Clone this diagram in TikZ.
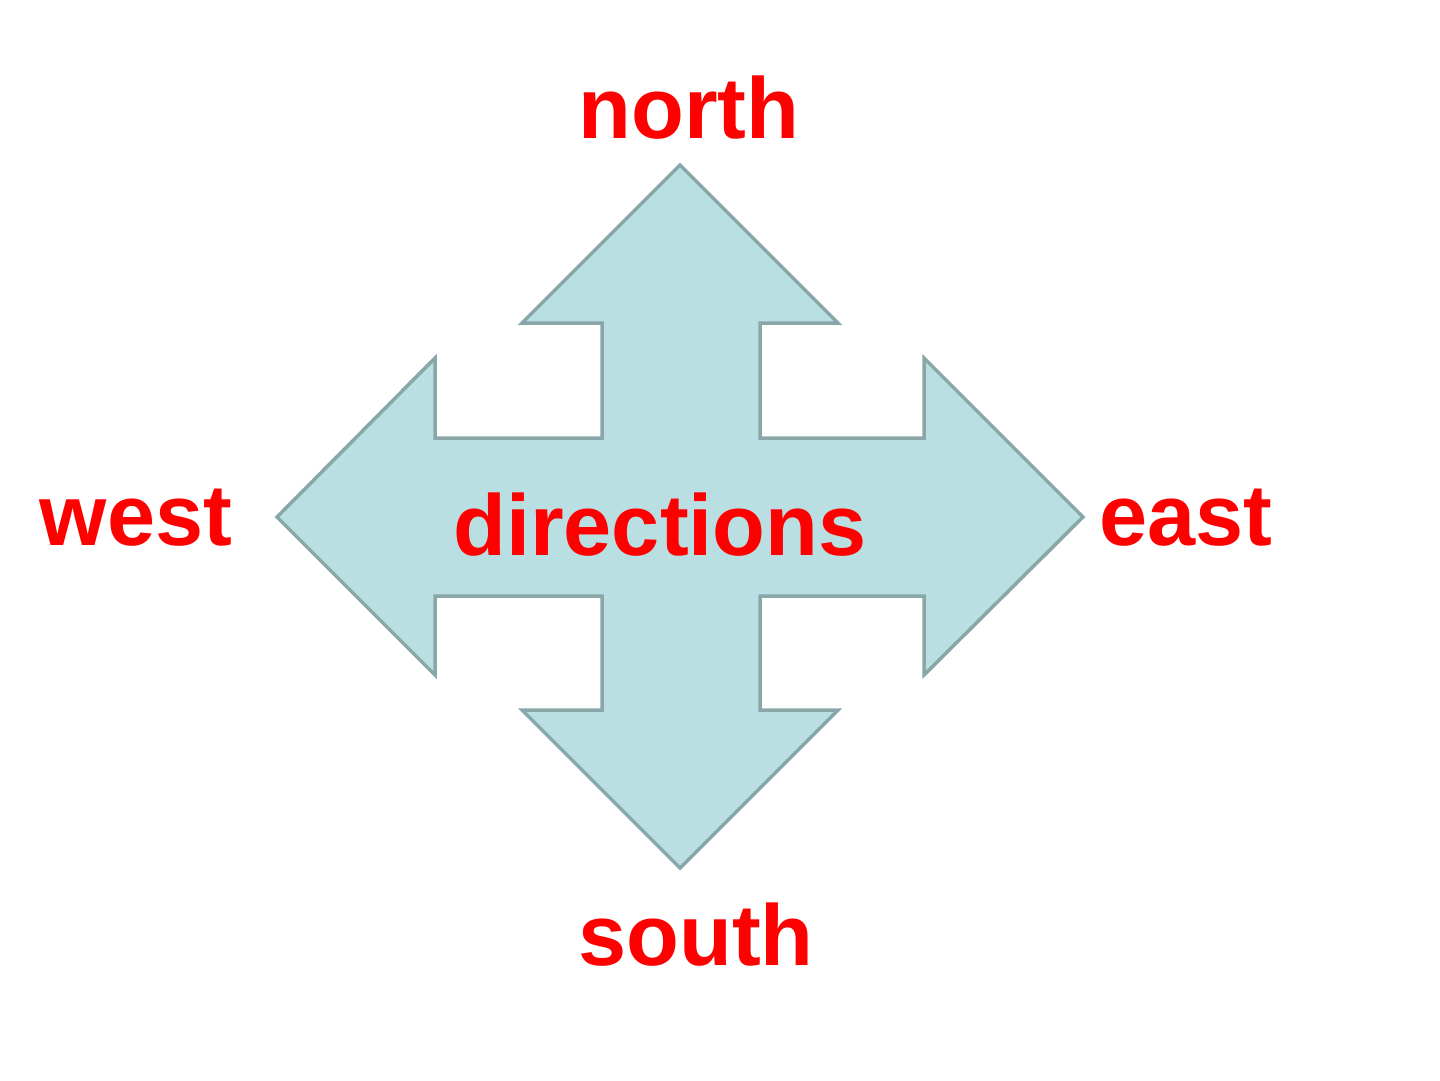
\documentclass[tikz,border=0pt]{standalone}
\usepackage{fontspec}
\setmainfont{Liberation Sans}
\definecolor{arrowfill}{HTML}{B9DFE3}
\definecolor{arrowline}{HTML}{89A7A9}
\definecolor{labelred}{HTML}{FF0000}
\begin{document}
\begin{tikzpicture}[x=1pt,y=-1pt,
  label/.style={text=labelred,font=\fontsize{86.5}{100}\selectfont\bfseries,anchor=base,inner sep=0pt},
  cross/.style={fill=arrowfill,draw=arrowline,line width=3.5pt,line join=miter}]
\useasboundingbox (0,0) rectangle (1440,1080);
\draw[cross] (680,165) -- (838,323) -- (760,323) -- (760,438) -- (924,438) -- (924,358)
  -- (1083,517) -- (924,675) -- (924,596) -- (760,596) -- (760,710) -- (838,710)
  -- (680,868) -- (522,710) -- (602,710) -- (602,596) -- (435,596) -- (435,675)
  -- (277,517) -- (435,358) -- (435,438) -- (602,438) -- (602,323) -- (522,323) -- cycle;
\node[label] (north) at (689,138) {north};
\node[label] (west) at (136,545) {west};
\node[label] (dir) at (660,555) {directions};
\node[label] (east) at (1186,545) {east};
\node[label] (south) at (696,965) {south};
\end{tikzpicture}
\end{document}
